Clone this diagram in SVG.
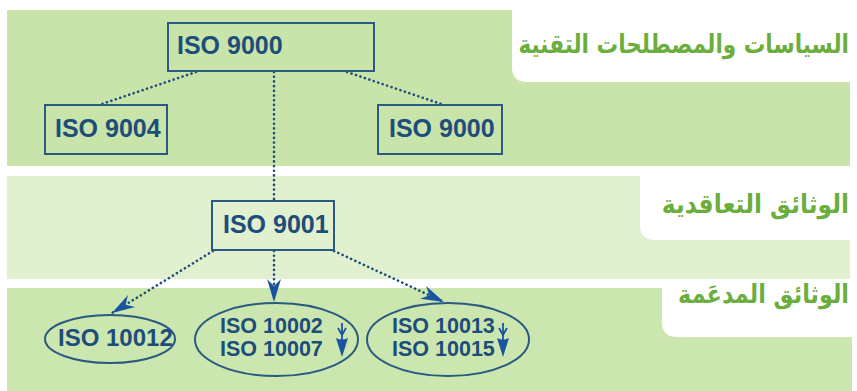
<svg xmlns="http://www.w3.org/2000/svg" width="857" height="391" viewBox="0 0 857 391">
<style>
.band1{fill:#c9e4ab}
.band2{fill:#e1f0cf}
.band3{fill:#cce6b0}
.tab{fill:#ffffff}
.box{fill:none;stroke:#2b5a80;stroke-width:2}
.lbl{font-family:"Liberation Sans",Arial,sans-serif;font-weight:bold;fill:#1d4d79}
.ar{font-family:"DejaVu Sans","Noto Sans",sans-serif;font-weight:bold;fill:#6cae3e;font-size:26px}
.dot{fill:none;stroke:#1f4d7a;stroke-width:2.6;stroke-dasharray:0.1 4.6;stroke-linecap:round}
.mini{fill:none;stroke:#1a53a0;stroke-width:1.8}
.head{fill:#1a53a0}
</style>
<defs>
<marker id="arr" viewBox="-1 -8 25 16" refX="23" refY="0" markerWidth="25" markerHeight="16" markerUnits="userSpaceOnUse" orient="auto">
<path d="M0,-7 L23,0 L0,7 L7,0 Z" fill="#1a53a0"/>
</marker>
</defs>
<g id="bands">
<rect class="band1" x="7" y="10" width="843" height="156"/>
<path class="tab" d="M512,10 H857 V82 H527 Q512,82 512,67 Z"/>
<rect class="band2" x="7" y="176" width="843" height="103"/>
<path class="tab" d="M640,176 H857 V240 H655 Q640,240 640,225 Z"/>
<rect class="band3" x="7" y="288" width="845" height="103"/>
<path class="tab" d="M662,288 H857 V337 H677 Q662,337 662,322 Z"/>
</g>
<g id="section-labels">
<text class="ar" transform="translate(849,53) scale(0.83,1)" text-anchor="end">السياسات والمصطلحات التقنية</text>
<text class="ar" transform="translate(849,213) scale(0.9,1)" text-anchor="end">الوثائق التعاقدية</text>
<text class="ar" transform="translate(849,303) scale(0.86,1)" text-anchor="end">الوثائق المدعَمة</text>
</g>
<g id="connectors">
<line class="dot" x1="196" y1="72" x2="99" y2="105"/>
<line class="dot" x1="347" y1="72" x2="444" y2="105"/>
<line class="dot" x1="274" y1="72" x2="274" y2="201"/>
<line class="dot" x1="213" y1="251" x2="112" y2="313" marker-end="url(#arr)"/>
<line class="dot" x1="274" y1="251" x2="274" y2="302" marker-end="url(#arr)"/>
<line class="dot" x1="334" y1="251" x2="444" y2="302" marker-end="url(#arr)"/>
</g>
<g id="iso9000-top">
<rect class="box" x="168" y="23" width="206" height="48"/>
<text class="lbl" x="177" y="54" font-size="25">ISO 9000</text>
</g>
<g id="iso9004">
<rect class="box" x="45" y="105" width="122" height="49"/>
<text class="lbl" x="55" y="137" font-size="25">ISO 9004</text>
</g>
<g id="iso9000-right">
<rect class="box" x="378" y="105" width="124" height="49"/>
<text class="lbl" x="389" y="137" font-size="25">ISO 9000</text>
</g>
<g id="iso9001">
<rect class="box" x="212" y="201" width="122" height="49"/>
<text class="lbl" x="223" y="233" font-size="25">ISO 9001</text>
</g>
<g id="iso10012">
<ellipse class="box" cx="110" cy="339" rx="65" ry="24"/>
<text class="lbl" x="58" y="346" font-size="24">ISO 10012</text>
</g>
<g id="iso10002-10007">
<ellipse class="box" cx="276.5" cy="339.5" rx="81.5" ry="36.5"/>
<text class="lbl" font-size="21.5"><tspan x="220" y="333">ISO 10002</tspan><tspan x="220" y="356">ISO 10007</tspan></text>
<line class="mini" x1="342" y1="323" x2="342" y2="344"/>
<path class="mini" d="M338,328 L342,335 L346,328"/>
<path class="head" d="M336,338 Q342,341 348,338 L342,357 Z"/>
</g>
<g id="iso10013-10015">
<ellipse class="box" cx="448" cy="339.5" rx="81" ry="36.5"/>
<text class="lbl" font-size="21.5"><tspan x="392" y="333">ISO 10013</tspan><tspan x="392" y="356">ISO 10015</tspan></text>
<line class="mini" x1="503" y1="323" x2="503" y2="344"/>
<path class="mini" d="M499,328 L503,335 L507,328"/>
<path class="head" d="M497,338 Q503,341 509,338 L503,357 Z"/>
</g>
</svg>
